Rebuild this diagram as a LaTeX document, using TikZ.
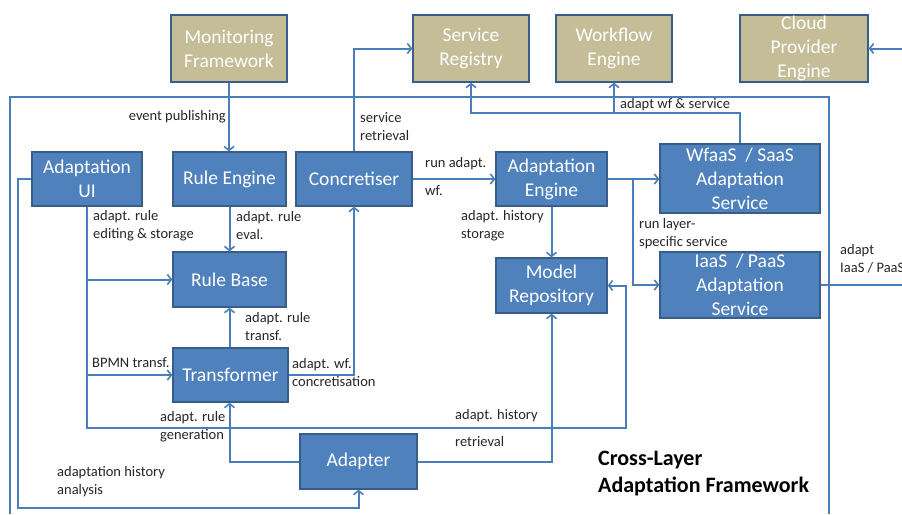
\documentclass[tikz,border=0pt]{standalone}
\usepackage{fontspec}
\setmainfont{Carlito}
\usetikzlibrary{arrows.meta}
\definecolor{bfill}{HTML}{4F81BD}
\definecolor{bdraw}{HTML}{385D8A}
\definecolor{tfill}{HTML}{C4BD97}
\definecolor{lcol}{HTML}{4A7EBB}
\definecolor{tcol}{HTML}{262626}
\tikzset{
  bbox/.style={draw=bdraw, fill=bfill, line width=1.3pt, text=white, align=center, inner sep=0pt,
    font=\fontsize{19.5}{24}\selectfont},
  tbox/.style={bbox, fill=tfill},
  conn/.style={draw=lcol, line width=2pt},
  arr/.style={conn, -{Straight Barb[length=4pt,width=10pt,line width=1.6pt]}},
  lbl/.style={inner sep=0pt, align=left, text=tcol, font=\fontsize{14.5}{18}\selectfont},
  ttl/.style={inner sep=0pt, align=left, text=black, font=\fontsize{22}{27}\selectfont\bfseries},
}
\begin{document}
\begin{tikzpicture}[x=1pt,y=-1pt]
\useasboundingbox (0,0) rectangle (902,514);
% outer frame
\draw[draw=lcol, line width=1.5pt] (10,514) -- (10,97) -- (829,97) -- (829,514);
% top boxes
\node[tbox, minimum width=116, minimum height=67] (mon) at (229,48.5) {Monitoring\\Framework};
\node[tbox, minimum width=116, minimum height=67] (sr) at (471,48.5) {Service\\Registry};
\node[tbox, minimum width=116, minimum height=67] (wf) at (614,48.5) {Workflow\\Engine};
\node[tbox, minimum width=128, minimum height=67] (cp) at (804,48.5) {Cloud\\Provider\\Engine};
% blue boxes
\node[bbox, minimum width=110, minimum height=54] (ui) at (87,179) {Adaptation\\UI};
\node[bbox, minimum width=113, minimum height=54] (re) at (229.5,179) {Rule Engine};
\node[bbox, minimum width=116, minimum height=54] (conc) at (354,179) {Concretiser};
\node[bbox, minimum width=111, minimum height=54] (ae) at (551.5,179) {Adaptation\\Engine};
\node[bbox, minimum width=160, minimum height=69] (ws) at (740,178.5) {WfaaS~~/ SaaS\\Adaptation\\Service};
\node[bbox, minimum width=113, minimum height=55] (rb) at (229.5,279.5) {Rule Base};
\node[bbox, minimum width=115, minimum height=54] (tr) at (230.5,375) {Transformer};
\node[bbox, minimum width=111, minimum height=55] (mr) at (551.5,285.5) {Model\\Repository};
\node[bbox, minimum width=160, minimum height=66] (ip) at (740,285) {IaaS~~/ PaaS\\Adaptation\\Service};
\node[bbox, minimum width=117, minimum height=55] (ad) at (358.5,461.5) {Adapter};
% coordinates
\coordinate (top1) at (471,113);
\coordinate (br) at (633,179);
\coordinate (eR) at (902,285);
\coordinate (cR) at (902,48.5);
\coordinate (l1) at (18,508);
\coordinate (l2) at (626,428);
% connectors
\draw[arr] (mon.south) -- (mon.south |- re.north);
\draw[arr] (re.south) -- (re.south |- rb.north);
\draw[arr] (conc.north) |- (sr.west);
\draw[arr] (conc.east) -- (ae.west);
\draw[arr] (ae.east) -- (ws.west |- ae.east);
\draw[arr] (br) |- (ip.west);
\draw[arr] (ws.north) |- (top1) -- (sr.south);
\draw[arr] (wf.south |- top1) -- (wf.south);
\draw[arr] (ae.south) -- (mr.north);
\draw[conn] (ip.east) -- (eR);
\draw[arr] (cR) -- (cp.east);
\draw[arr] (ui.west) -| (l1) -| (ad.south);
\draw[arr] (ui.south) |- (l2) |- (mr.east);
\draw[arr] (ui.south |- rb.west) -- (rb.west);
\draw[arr] (ui.south |- tr.west) -- (tr.west);
\draw[arr] (rb.south |- tr.north) -- (rb.south);
\draw[arr] (tr.east) -| (conc.south);
\draw[arr] (ad.west) -| (rb.south |- tr.south);
\draw[arr] (ad.east) -| (mr.south);
% labels
\node[lbl, anchor=east] (l_ev) at (226,117) {event publishing};
\node[lbl, anchor=west] (l_re) at (236,226) {adapt. rule\\eval.};
\node[lbl, anchor=west] (l_sr) at (360,127) {service\\retrieval};
\node[lbl, anchor=west] (l_ra) at (425,164) {run adapt.};
\node[lbl, anchor=west] (l_wf) at (425,191) {wf.};
\node[lbl, anchor=west] (l_hs) at (461,226) {adapt. history\\storage};
\node[lbl, anchor=west] (l_rl) at (639,234) {run layer-\\specific service};
\node[lbl, anchor=west] (l_aw) at (620,105) {adapt wf \& service};
\node[lbl, anchor=west] (l_ai) at (840,259) {adapt\\IaaS / PaaS};
\node[lbl, anchor=west] (l_es) at (93,226) {adapt. rule\\editing \& storage};
\node[lbl, anchor=west] (l_bp) at (92,363) {BPMN transf.};
\node[lbl, anchor=west] (l_rt) at (245,327) {adapt. rule\\transf.};
\node[lbl, anchor=west] (l_wc) at (292,373) {adapt. wf.\\concretisation};
\node[lbl, anchor=west] (l_rg) at (160,427) {adapt. rule\\generation};
\node[lbl, anchor=west] (l_ha) at (57,482) {adaptation history\\analysis};
\node[lbl, anchor=west] (l_ah) at (455,416) {adapt. history};
\node[lbl, anchor=west] (l_rv) at (455,442) {retrieval};
\node[ttl, anchor=west] (title) at (598,473.5) {Cross-Layer\\Adaptation Framework};
\end{tikzpicture}
\end{document}
